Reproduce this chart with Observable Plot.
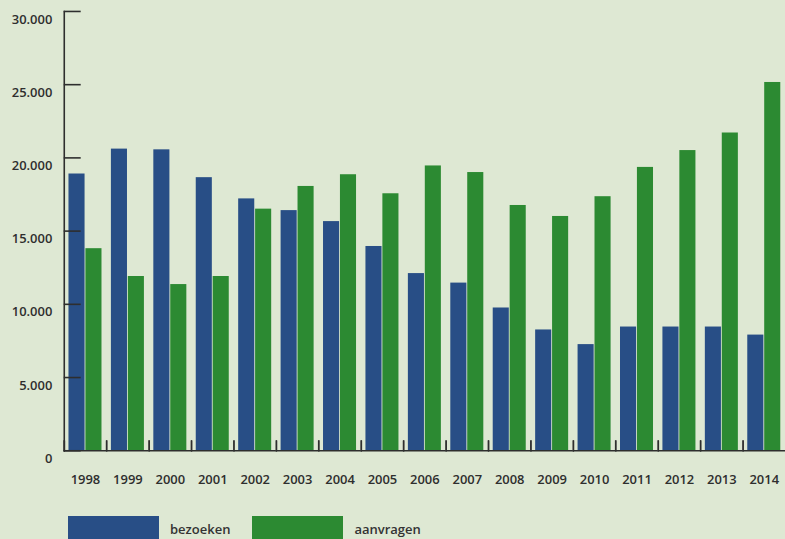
<!DOCTYPE html>
<html><head><meta charset="utf-8">
<script src="https://cdn.jsdelivr.net/npm/d3@7"></script>
<script src="https://cdn.jsdelivr.net/npm/@observablehq/plot@0.6"></script>
<style>
html,body{margin:0;padding:0;background:#dee8d3;overflow:hidden;width:785px;height:539px;}
#chart{position:absolute;left:0;top:0;}
#legend{position:absolute;top:516px;left:68px;display:flex;align-items:center;font:600 13px "Open Sans",sans-serif;color:#333}
.sw{width:91px;height:26px;flex:none}
.lb{margin-left:11px;margin-right:0}
</style></head><body>
<div id="chart"></div>
<div id="legend"></div>
<script>
const years = [1998,1999,2000,2001,2002,2003,2004,2005,2006,2007,2008,2009,2010,2011,2012,2013,2014];
const bezoeken = [18900,20600,20550,18650,17200,16400,15650,13950,12100,11450,9750,8250,7250,8450,8450,8450,7900];
const aanvragen = [13800,11900,11350,11900,16500,18050,18850,17550,19450,19000,16750,16000,17350,19350,20500,21700,25150];
const series = ["bezoeken","aanvragen"];
const colors = ["#284e86","#2c8a32"];
const yTicks = [0,5000,10000,15000,20000,25000,30000];

const rows = years.flatMap((y,i)=>[
  {year:y, series:series[0], value:bezoeken[i]},
  {year:y, series:series[1], value:aanvragen[i]}
]);
const fmt = d => d3.format(",")(d).replace(/,/g,".");
const ink = "#2e2e2e";
const tickShape = {draw(context, l) { context.moveTo(0, 0); context.lineTo(0, -l); }};

const plot = Plot.plot({
  width: 788, height: 497,
  marginLeft: 64, marginRight: 0, marginTop: 11, marginBottom: 45,
  style: {background:"transparent", fontFamily:"'Open Sans', sans-serif", fontSize:"13px", fontWeight:600, color:ink, overflow:"visible"},
  fx: {domain: years, padding: 0, round: false, label: null},
  x: {domain: series, paddingInner: 0.05, paddingOuter: 0.278, round: false, axis: null},
  y: {domain: [0,30000], label: null},
  color: {domain: series, range: colors},
  marks: [
    Plot.barY(rows, {fx:"year", x:"series", y:"value", fill:"series"}),
    Plot.ruleY([0], {stroke:ink, strokeWidth:1.6}),
    Plot.frame({anchor:"left", facetAnchor:"left", stroke:ink, strokeWidth:1.6}),
    Plot.vector([0], {frameAnchor:"bottom-left", anchor:"start", length:10, rotate:0, shape:tickShape, stroke:ink, strokeWidth:1.8}),
    Plot.axisY({ticks:yTicks, tickSize:-17, fill:"none", stroke:ink, strokeWidth:1.6, label:null}),
    Plot.axisY({ticks:yTicks, tickSize:0, tickPadding:12, dy:8, tickFormat:fmt, fill:ink, label:null}),
    Plot.axisFx({anchor:"bottom", tickSize:0, tickPadding:24, tickFormat:d=>String(d), label:null, fill:ink})
  ]
});
document.getElementById("chart").appendChild(plot);

const legend = document.getElementById("legend");
series.forEach((s,i)=>{
  const sw = document.createElement("div");
  sw.className = "sw"; sw.style.background = colors[i];
  const lb = document.createElement("span");
  lb.className = "lb"; lb.textContent = s;
  lb.style.marginRight = i === 0 ? "22px" : "0";
  legend.appendChild(sw); legend.appendChild(lb);
});
</script>
</body></html>
